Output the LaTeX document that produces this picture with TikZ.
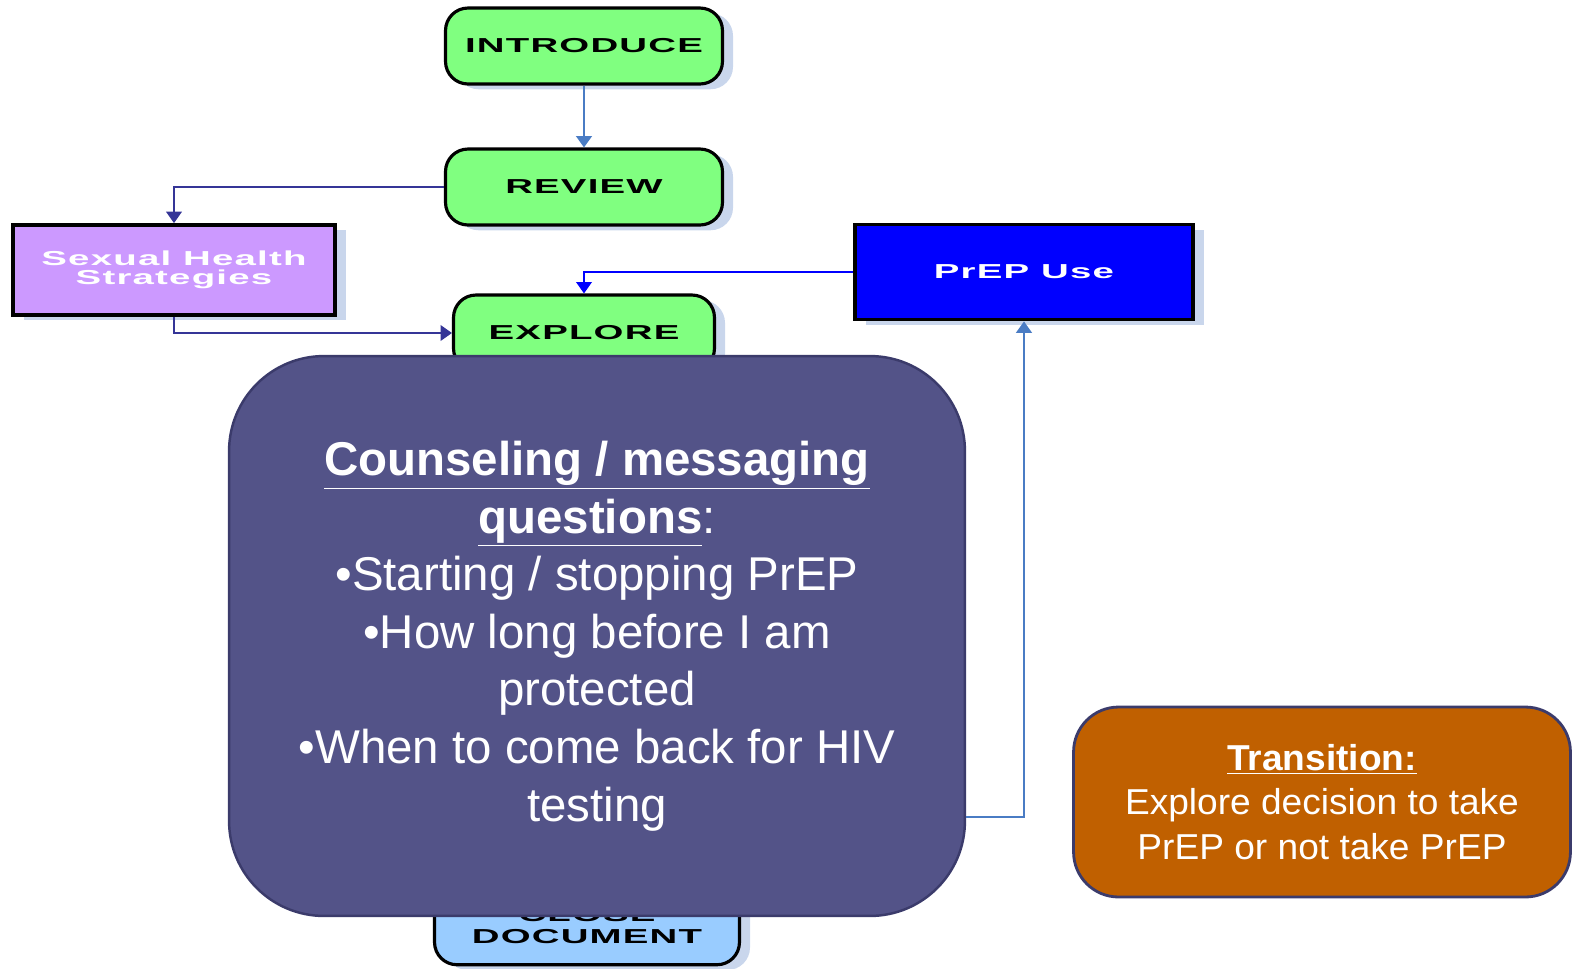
\documentclass[tikz,border=0pt]{standalone}
\usepackage{fontspec}
\setmainfont{Liberation Sans}
\newfontfamily\stepfont[FakeStretch=1.9,LetterSpace=6]{Liberation Sans}
\newfontfamily\narrowfont[FakeStretch=1.03]{Liberation Sans}
\usetikzlibrary{arrows.meta,shadows}
\definecolor{stepgreen}{HTML}{80FF80}
\definecolor{shsviolet}{HTML}{CC99FF}
\definecolor{prepblue}{HTML}{0000FF}
\definecolor{closeblue}{HTML}{99CCFF}
\definecolor{counselfill}{HTML}{535388}
\definecolor{counselline}{HTML}{3B3B6B}
\definecolor{transfill}{HTML}{C06000}
\definecolor{shadowblue}{HTML}{C9D6EC}
\definecolor{linkblue}{HTML}{4A7CC4}
\definecolor{linknavy}{HTML}{353597}
\tikzset{
  shade box/.style={drop shadow={shadow xshift=6pt,shadow yshift=-3pt,fill=shadowblue,opacity=1}},
  stepbox/.style={shade box,draw=black,line width=1.8pt,rounded corners=0.45cm,fill=stepgreen,
    minimum width=5.54cm,minimum height=1.52cm,font=\stepfont\bfseries\fontsize{11.5}{12.5}\selectfont,align=center},
  sidebox/.style={shade box,draw=black,line width=2.2pt,font=\stepfont\bfseries\fontsize{11.5}{11.5}\selectfont,
    text=white,align=center},
  bigbox/.style={draw=counselline,line width=1.4pt,fill=counselfill,text=white,align=center},
  link/.style={-{Triangle[width=9pt,length=6.5pt]},line width=0.6pt}
}
\begin{document}
\begin{tikzpicture}[x=0.02cm,y=0.02cm]
\useasboundingbox (0,0) rectangle (1579,-968);
\draw (584,-46) node[stepbox](intro) {INTRODUCE};
\draw (584,-187) node[stepbox](review) {REVIEW};
\draw (584,-333) node[stepbox,minimum width=5.22cm](explore) {EXPLORE};
\draw (174,-270) node[sidebox,fill=shsviolet,minimum width=6.44cm,minimum height=1.8cm](shs) {Sexual Health\\[-1pt]Strategies};
\draw (1024,-272) node[sidebox,fill=prepblue,minimum width=6.76cm,minimum height=1.9cm](prep) {PrEP Use};
\draw (587,-926) node[stepbox,fill=closeblue,minimum width=6.1cm,minimum height=1.55cm](close) {CLOSE\\DOCUMENT};
\draw[link,draw=linkblue,line width=1.2pt] (intro) -- (review);
\draw[link,draw=linknavy] (review.west) -| (shs.north);
\draw[link,draw=linknavy] (shs.south) |- (explore.west);
\draw[link,draw=prepblue] (prep.west) -| (explore.north);
\draw (597,-636) node[bigbox,rounded corners=1.9cm,minimum width=14.72cm,minimum height=11.2cm,
  font=\fontsize{27}{32.8}\selectfont](counsel) {\textbf{\underline{Counseling / messaging}}\\
  \textbf{\underline{questions}}:\\
  •Starting / stopping PrEP\\
  •How long before I am\\
  protected\\
  •When to come back for HIV\\
  testing};
\coordinate (turn) at (1024,-817);
\draw[link,draw=linkblue,line width=1pt] (turn -| counsel.east) -- (turn) -- (prep.south);
\draw (1322,-802) node[bigbox,fill=transfill,line width=1.6pt,rounded corners=0.9cm,minimum width=9.94cm,
  minimum height=3.8cm,font=\narrowfont\fontsize{20.5}{25.5}\selectfont](trans) {\textbf{\underline{Transition:}}\\
  Explore decision to take\\
  PrEP or not take PrEP};
\end{tikzpicture}
\end{document}
